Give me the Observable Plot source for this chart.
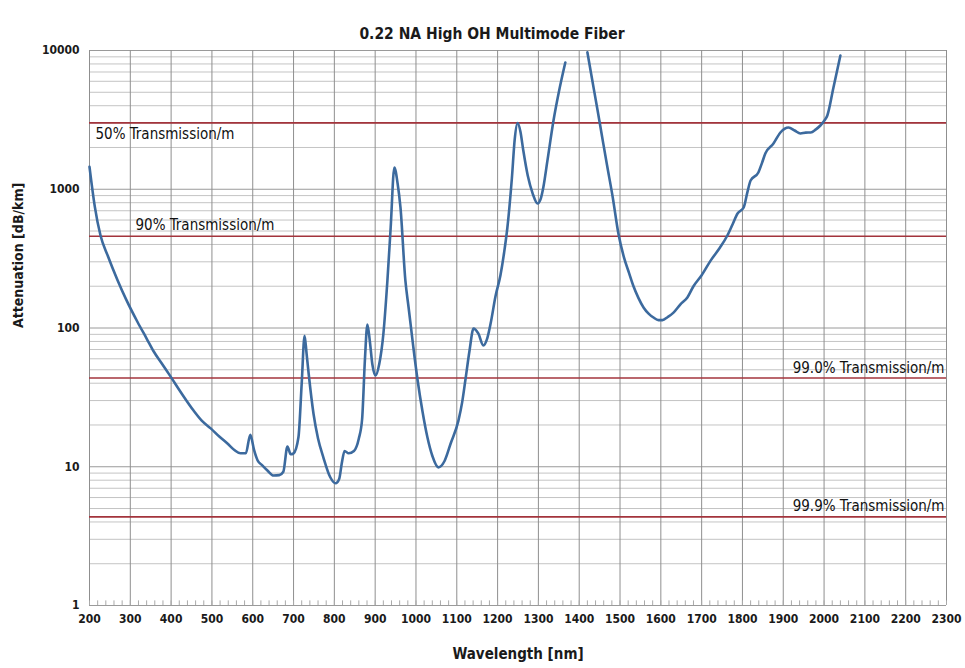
<!DOCTYPE html>
<html><head><meta charset="utf-8">
<script src="https://cdn.jsdelivr.net/npm/d3@7"></script>
<script src="https://cdn.jsdelivr.net/npm/@observablehq/plot@0.6"></script>
<style>
body{margin:0;background:#fff;}
</style></head><body><div id="chart"></div>
<script>
// Segment 1 (200–1366 nm)
const wavelength1 = [200,213,227,245,269,290,318,340,357,378,398,425,455,475,497,518,538,555,570,583,594,603,612,624,636,651,665,675,685,693,700,712,720,727,732,737,749,760,773,790,803,812,818,825,835,848,860,868,875,881,887,893,901,910,920,930,938,947,955,962,974,982,993,1004,1016,1028,1040,1055,1070,1085,1104,1113,1121,1131,1141,1153,1165,1175,1183,1195,1207,1216,1224,1235,1242,1249,1256,1263,1274,1286,1298,1306,1312,1322,1337,1350,1366];
const attenuation1 = [1450,750,464,330,220,160,110,84,68,55,45,34,25.4,21.5,18.9,16.5,14.7,13.2,12.5,12.5,17,13.3,11.1,10.2,9.4,8.65,8.7,9.2,14,12.3,12.5,16.3,40,88,65,47,24,16,11.7,8.4,7.6,8.2,10.5,13,12.5,13,16,22,60,106,80,55,45.5,55,90,220,530,1435,1100,739,220,140,75,42,25,16.3,12,9.9,11,14.7,21.5,29,42,68,99,91,75,85,108,170,240,350,530,1200,2300,3000,2600,1900,1250,931,789,860,1030,1600,3130,5000,8200];
// Segment 2 (1420–2040 nm)
const wavelength2 = [1420,1432,1444,1456,1468,1482,1496,1510,1522,1533,1545,1558,1570,1582,1594,1604,1617,1631,1648,1665,1680,1700,1722,1745,1763,1776,1788,1803,1812,1820,1839,1848,1856,1876,1893,1913,1928,1942,1955,1967,1980,1991,2000,2008,2023,2040];
const attenuation2 = [9700,6100,3850,2400,1500,880,480,320,250,200,165,140,127,119,114,114,120,129,148,166,200,240,306,380,464,560,669,739,950,1156,1321,1550,1811,2137,2564,2786,2650,2524,2560,2564,2700,2880,3100,3400,5410,9200];

const transmissionValues = [3010, 458, 43.6, 4.35];
const transmissionLabels = ["50% Transmission/m","90% Transmission/m","99.0% Transmission/m","99.9% Transmission/m"];

const xTicks = d3.range(200, 2301, 100);
const xMinorTicks = d3.range(200, 2301, 20);
const yTicks = [1, 10, 100, 1000, 10000];
const yMinor = [];
for (const d of [1, 10, 100, 1000]) for (let k = 2; k <= 9; k++) yMinor.push(d * k);

const titleText = "0.22 NA High OH Multimode Fiber";
const xLabel = "Wavelength [nm]";
const yLabel = "Attenuation [dB/km]";

const data = [
  ...wavelength1.map((w, i) => ({w, a: attenuation1[i], seg: 1})),
  ...wavelength2.map((w, i) => ({w, a: attenuation2[i], seg: 2}))
];
const trans = transmissionValues.map((v, i) => ({v, label: transmissionLabels[i]}));

const font = '"DejaVu Sans Condensed","Liberation Sans Narrow","Arial Narrow",sans-serif';
const red = "#a3343c";

const chart = Plot.plot({
  width: 965, height: 668,
  marginLeft: 89, marginRight: 19, marginTop: 50, marginBottom: 63,
  style: {fontFamily: font, fontSize: "12px", fontWeight: "bold", color: "#1a1a1a", background: "#fff"},
  x: {domain: [200, 2300], ticks: xTicks, tickFormat: d => String(d), tickSize: 0, tickPadding: 9, label: null},
  y: {type: "log", domain: [1, 10000], ticks: yTicks, tickFormat: d => String(d), tickSize: 0, tickPadding: 10, label: null},
  marks: [
    Plot.ruleY(yMinor, {stroke: "#c4c4c4", strokeWidth: 1}),
    Plot.ruleY(yTicks, {stroke: "#9a9a9a", strokeWidth: 1}),
    Plot.ruleX(xTicks, {stroke: "#8f8f8f", strokeWidth: 1}),
    Plot.ruleX(xMinorTicks, {y1: 1, y2: 1.08, stroke: "#aaa"}),
    Plot.ruleY(trans, {y: "v", stroke: red, strokeWidth: 1.6}),
    Plot.text([trans[0]], {y: "v", text: "label", frameAnchor: "left", textAnchor: "start", dx: 6, dy: 11, fontSize: 15, fontWeight: "normal", fill: "#111"}),
    Plot.text([trans[1]], {y: "v", text: "label", frameAnchor: "left", textAnchor: "start", dx: 46, dy: -11, fontSize: 15, fontWeight: "normal", fill: "#111"}),
    Plot.text([trans[2]], {y: "v", text: "label", frameAnchor: "right", textAnchor: "end", dx: -2, dy: -10, fontSize: 15, fontWeight: "normal", fill: "#111"}),
    Plot.text([trans[3]], {y: "v", text: "label", frameAnchor: "right", textAnchor: "end", dx: -2, dy: -11, fontSize: 15, fontWeight: "normal", fill: "#111"}),
    Plot.line(data, {x: "w", y: "a", z: "seg", stroke: "#3c6a9e", strokeWidth: 2.6, curve: "monotone-x"}),
    Plot.text([titleText], {text: d => d, frameAnchor: "top", dy: -23, dx: -26, fontSize: 15.5, fontWeight: "bold", fill: "#1a1a1a"}),
    Plot.text([xLabel], {text: d => d, frameAnchor: "bottom", dy: 53, fontSize: 15, fontWeight: "bold", fill: "#1a1a1a"}),
    Plot.text([yLabel], {text: d => d, frameAnchor: "left", rotate: -90, dx: -71, fontSize: 14, fontWeight: "bold", fill: "#1a1a1a"})
  ]
});
document.getElementById("chart").appendChild(chart);
</script></body></html>
